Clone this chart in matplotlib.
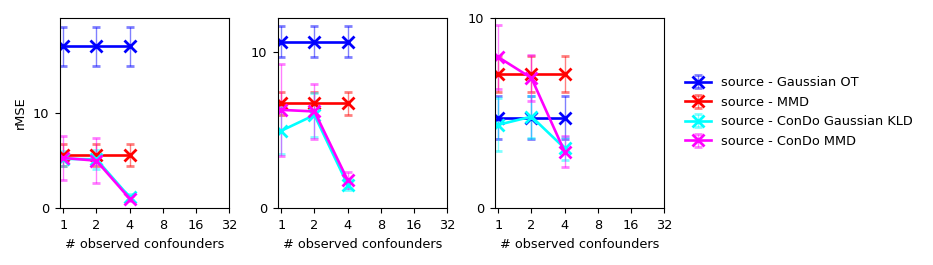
import matplotlib
matplotlib.use("Agg")
import matplotlib.pyplot as plt
import numpy as np

x_vals = [1, 2, 4]
x_ticks = [1, 2, 4, 8, 16, 32]
labels = ["source - Gaussian OT", "source - MMD",
          "source - ConDo Gaussian KLD", "source - ConDo MMD"]
colors = ["blue", "red", "cyan", "magenta"]

# panel 1
p1_mean = [[17.1, 17.1, 17.1], [5.62, 5.62, 5.62], [5.2, 5.15, 1.15], [5.3, 5.0, 1.0]]
p1_err = [[2.1, 2.1, 2.1], [1.2, 1.2, 1.2], [0.8, 1.0, 0.3], [2.3, 2.4, 0.3]]
# panel 2
p2_mean = [[10.68, 10.68, 10.68], [6.72, 6.72, 6.72], [4.96, 5.97, 1.5], [6.3, 6.2, 1.8]]
p2_err = [[1.0, 1.0, 1.0], [0.75, 0.75, 0.75], [1.5, 1.4, 0.35], [2.95, 1.77, 0.5]]
# panel 3
p3_mean = [[4.76, 4.76, 4.76], [7.06, 7.06, 7.06], [4.38, 4.81, 3.15], [7.94, 6.84, 2.97]]
p3_err = [[1.14, 1.14, 1.14], [0.93, 0.93, 0.93], [1.4, 1.1, 0.6], [1.7, 1.2, 0.8]]

ylims = [20.1, 12.2, 10.0]

FS = 9.3
fig = plt.figure(figsize=(9.33, 2.65), dpi=100)
lefts = [60 / 933, 278 / 933, 495 / 933]
width = 169 / 933
bottom = 57 / 265
height = 190 / 265

panels = [(p1_mean, p1_err), (p2_mean, p2_err), (p3_mean, p3_err)]
handles = []
for i, ((means, errs), left) in enumerate(zip(panels, lefts)):
    ax = fig.add_axes([left, bottom, width, height])
    for m, e, c, lab in zip(means, errs, colors, labels):
        h = ax.errorbar(x_vals, m, yerr=e, color=c, marker="x", markersize=8.5,
                        markeredgewidth=2, linewidth=1.9, capsize=3,
                        elinewidth=1, ecolor=matplotlib.colors.to_rgba(c, 0.5),
                        label=lab)
        if i == 0:
            handles.append(h)
    ax.set_xscale("log", base=2)
    ax.set_xticks(x_ticks)
    ax.set_xticklabels([str(t) for t in x_ticks])
    ax.minorticks_off()
    ax.set_xlim(2 ** -0.1, 32)
    ax.set_ylim(0, ylims[i])
    ax.set_yticks([0, 10])
    ax.set_xlabel("# observed confounders", fontsize=FS)
    ax.tick_params(labelsize=FS, pad=4.5)
    if i == 0:
        ax.set_ylabel("rMSE", fontsize=FS)

fig.legend(handles, labels, loc="center left", bbox_to_anchor=(0.722, 0.577),
           frameon=False, fontsize=FS)
fig.savefig("out.png", dpi=100)
